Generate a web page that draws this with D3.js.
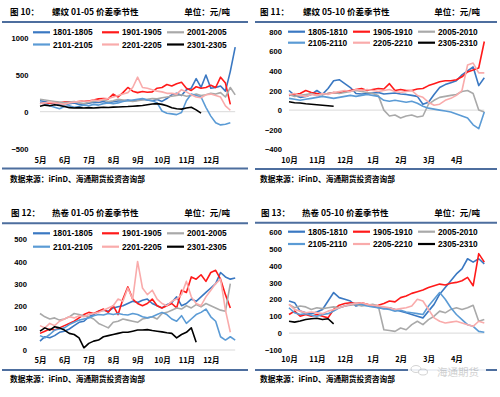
<!DOCTYPE html>
<html>
<head>
<meta charset="utf-8">
<script src="https://cdn.jsdelivr.net/npm/d3@7"></script>
<style>
  body { margin: 0; background: #fff; }
  svg { display: block; }
  .cjk { font-family: "Noto Sans CJK SC", sans-serif; font-weight: bold; fill: #000; }
  .num { font-family: "Liberation Sans", Arial, sans-serif; font-weight: bold; fill: #000; }
</style>
</head>
<body>
<div id="chart-area"></div>
<script>
// month labels on the x axis
var monthsA = ["5月", "6月", "7月", "8月", "9月", "10月", "11月", "12月"];
var monthsB = ["10月", "11月", "12月", "1月", "2月", "3月", "4月"];

// legend names
var names0105 = ["1801-1805", "1901-1905", "2001-2005", "2101-2105", "2201-2205", "2301-2305"];
var names0510 = ["1805-1810", "1905-1910", "2005-2010", "2105-2110", "2205-2210", "2305-2310"];

// one sample every 0.2 month (元/吨)
var STEP = 0.2;

// 螺纹 01-05
var rb0105_1801 = [150,140,120,110,100,95,110,120,100,105,115,130,125,140,120,135,145,150,160,145,155,170,160,150,165,140,180,230,250,220,300,320,450,330,500,320,330,350,280,550,880];
var rb0105_1901 = [120,110,115,125,120,130,135,130,140,150,145,160,175,180,175,240,200,260,330,280,260,275,265,270,320,330,370,350,380,400,320,290,340,320,330,360,330,470,390,100];
var rb0105_2001 = [170,160,150,140,130,120,130,140,120,110,130,140,150,160,140,150,170,160,150,140,150,160,170,180,175,190,200,210,220,230,210,220,240,220,230,250,240,260,200,330,230];
var rb0105_2101 = [120,110,80,60,40,70,80,60,70,90,80,100,90,110,120,110,120,140,150,160,170,180,160,150,120,10,-20,-30,-40,-10,150,240,220,200,60,-60,-150,-180,-170,-150];
var rb0105_2201 = [110,120,130,120,110,100,120,130,140,150,140,160,150,170,180,200,220,240,260,330,470,330,320,300,280,270,250,250,240,300,270,230,200,190,230,240,220,200,80,20];
var rb0105_2301 = [75,90,80,95,85,70,55,50,55,50,55,50,55,60,58,62,65,68,70,75,80,85,95,105,110,100,80,55,40,35,50,60,25,-20];

// 螺纹 05-10
var rb0510_1805 = [200,150,130,140,160,200,160,220,300,310,270,230,170,165,170,175,180,165,170,175,165,160,150,140,60,80,160,230,260,280,300,360,400,440,250,330];
var rb0510_1905 = [150,160,170,200,180,170,160,170,180,175,190,200,210,220,200,210,220,215,270,200,210,200,200,215,220,250,270,290,300,300,310,340,390,410,430,700];
var rb0510_2005 = [160,140,150,160,170,150,160,170,180,170,180,190,200,190,180,170,150,0,-60,-50,-80,-60,-50,-70,-60,60,100,130,140,150,160,190,200,170,0,-20];
var rb0510_2105 = [120,110,100,110,120,130,140,130,120,130,140,150,140,150,160,150,140,100,90,100,90,80,90,70,40,20,10,0,-10,-20,-40,-60,-80,-150,-190,-20];
var rb0510_2205 = [160,170,150,140,160,150,170,160,180,190,200,190,210,200,210,200,190,200,210,190,180,190,200,150,130,80,50,60,100,120,150,200,460,480,380,380];
var rb0510_2305 = [85,75,72,65,60,55,50,45,40];

// 热卷 01-05
var hc0105_1801 = [40,60,55,65,80,85,95,110,125,130,150,160,175,180,175,190,195,200,210,220,215,225,230,210,200,190,205,215,240,200,210,230,220,240,260,280,300,350,330,320,325];
var hc0105_1901 = [75,85,95,90,100,110,120,130,145,160,170,165,175,185,170,200,160,230,285,230,210,200,210,230,200,190,200,210,190,270,260,330,320,340,310,350,360,320,250,190];
var hc0105_2001 = [165,150,140,145,135,140,150,165,160,155,150,140,120,110,100,125,130,140,135,130,125,140,145,150,140,165,170,180,190,185,200,190,205,195,210,200,190,180,175,300];
var hc0105_2101 = [65,55,70,90,95,100,115,125,135,140,145,155,160,158,165,160,165,160,158,165,160,150,145,150,160,170,160,140,130,155,120,140,160,170,185,150,130,60,45,60,45];
var hc0105_2201 = [110,100,120,110,130,140,150,145,155,150,160,165,170,180,190,200,230,220,280,230,400,280,250,270,230,210,200,220,230,250,310,240,210,200,240,270,300,320,180,80];
var hc0105_2301 = [85,100,90,105,100,90,75,70,55,10,30,40,45,60,65,70,75,80,80,85,90,90,92,88,85,82,78,75,55,70,80,100,35];

// 热卷 05-10
var hc0510_1805 = [190,180,130,120,115,125,140,190,240,210,200,190,160,170,165,160,150,145,150,140,130,120,110,100,90,130,170,230,270,310,350,380,440,420,440,410];
var hc0510_1905 = [110,130,100,110,100,110,100,90,140,165,175,180,175,180,170,160,165,175,190,185,210,220,235,245,255,270,280,290,285,295,300,310,330,280,470,420];
var hc0510_2005 = [170,150,160,155,140,150,145,150,155,150,160,165,170,160,165,170,160,20,15,10,30,20,50,70,50,80,100,130,120,140,150,140,150,165,70,80];
var hc0510_2105 = [150,120,110,115,105,100,110,115,130,150,160,170,175,170,160,155,150,145,140,130,135,125,120,115,110,160,200,240,200,150,110,80,50,40,10,5];
var hc0510_2205 = [170,140,130,120,125,120,115,130,140,150,160,170,175,180,170,165,160,155,150,140,145,150,160,200,190,140,90,70,60,65,70,60,50,40,70,60];
var hc0510_2305 = [70,65,72,80,85,88,80,85,55];

var colors = ["#3a78c2", "#ff1a1a", "#a9a9a9", "#5b9bd5", "#f9abab", "#000000"];
var ruleColor = "#4d6e9e";

var panels = [
  {
    fig: "图 10：", title: "螺纹 01-05 价差季节性", figX: 10, titleX: 52, unitX: 230, titleY: 11,
    ruleY: 22, ruleX: [2, 248], legendY: [32.3, 44.5], legendX: [33, 102, 167],
    names: names0105, months: monthsA,
    series: [rb0105_1801, rb0105_1901, rb0105_2001, rb0105_2101, rb0105_2201, rb0105_2301],
    xRange: [40, 235.2], yDomain: [-500, 1000], yRange: [148.4, 38.3], yTicks: [-500, 0, 500, 1000],
    yLabelX: 28.5, xLabelY: 160, bottomY: 168.5, sourceX: 10, sourceY: 178
  },
  {
    fig: "图 11：", title: "螺纹 05-10 价差季节性", figX: 260, titleX: 303, unitX: 480, titleY: 11,
    ruleY: 22, ruleX: [255, 497], legendY: [31.7, 42.7], legendX: [288, 353, 418],
    names: names0510, months: monthsB,
    series: [rb0510_1805, rb0510_1905, rb0510_2005, rb0510_2105, rb0510_2205, rb0510_2305],
    xRange: [289, 484.3], yDomain: [-400, 800], yRange: [149.3, 31.7], yTicks: [-400, -200, 0, 200, 400, 600, 800],
    yLabelX: 282, xLabelY: 160, bottomY: 169, sourceX: 260, sourceY: 178
  },
  {
    fig: "图 12：", title: "热卷 01-05 价差季节性", figX: 11, titleX: 52, unitX: 230, titleY: 211.7,
    ruleY: 223.3, ruleX: [2, 248], legendY: [233.3, 246.7], legendX: [33, 102, 167],
    names: names0105, months: monthsA,
    series: [hc0105_1801, hc0105_1901, hc0105_2001, hc0105_2101, hc0105_2201, hc0105_2301],
    xRange: [40, 235.2], yDomain: [0, 500], yRange: [350, 239.3], yTicks: [0, 100, 200, 300, 400, 500],
    yLabelX: 27, xLabelY: 360, bottomY: 370, sourceX: 10, sourceY: 378.3
  },
  {
    fig: "图 13：", title: "热卷 05-10 价差季节性", figX: 261, titleX: 302, unitX: 480, titleY: 211.7,
    ruleY: 222.7, ruleX: [255, 497], legendY: [231.7, 244], legendX: [288, 353, 418],
    names: names0510, months: monthsB,
    series: [hc0510_1805, hc0510_1905, hc0510_2005, hc0510_2105, hc0510_2205, hc0510_2305],
    xRange: [289, 484.3], yDomain: [-100, 600], yRange: [350, 231.7], yTicks: [-100, 0, 100, 200, 300, 400, 500, 600],
    yLabelX: 282, xLabelY: 359, bottomY: 370, sourceX: 260, sourceY: 378
  }
];

var svg = d3
  .select("#chart-area")
  .append("svg")
  .attr("xmlns", "http://www.w3.org/2000/svg")
  .attr("width", 500)
  .attr("height", 397);

svg.append("rect").attr("width", 500).attr("height", 397).attr("fill", "#fff");

function drawPanel(p) {
  var g = svg.append("g");
  var x = d3.scaleLinear().domain([0, p.months.length]).range(p.xRange);
  var y = d3.scaleLinear().domain(p.yDomain).range(p.yRange);

  // header
  g.append("text").attr("class", "cjk").attr("x", p.figX).attr("y", p.titleY)
    .attr("dominant-baseline", "central").attr("font-size", "8.5px").text(p.fig);
  g.append("text").attr("class", "cjk").attr("x", p.titleX).attr("y", p.titleY)
    .attr("dominant-baseline", "central").attr("font-size", "8.5px").text(p.title);
  g.append("text").attr("class", "cjk").attr("x", p.unitX).attr("y", p.titleY)
    .attr("dominant-baseline", "central").attr("text-anchor", "end").attr("font-size", "8.5px").text("单位：元/吨");
  g.append("line").attr("x1", p.ruleX[0]).attr("x2", p.ruleX[1]).attr("y1", p.ruleY).attr("y2", p.ruleY)
    .attr("stroke", ruleColor).attr("stroke-width", 2);

  // zero line
  g.append("line").attr("x1", x(0)).attr("x2", x(p.months.length)).attr("y1", y(0)).attr("y2", y(0))
    .attr("stroke", "#d9d9d9").attr("stroke-width", 1);

  // y axis labels only
  var yAxis = d3.axisLeft(y).tickValues(p.yTicks).tickSize(0).tickPadding(0);
  var ya = g.append("g").attr("transform", "translate(" + p.yLabelX + ",0)").call(yAxis);
  ya.select(".domain").remove();
  ya.selectAll("text").attr("class", "num").attr("font-size", "7.6px").attr("dy", "0.35em")
    .text(function (d) { return d < 0 ? "\u2212" + Math.abs(d) : d; });

  // x axis labels only
  var xAxis = d3.axisBottom(x).tickValues(d3.range(p.months.length)).tickSize(0).tickPadding(0)
    .tickFormat(function (i) { return p.months[i]; });
  var xa = g.append("g").attr("transform", "translate(0," + p.xLabelY + ")").call(xAxis);
  xa.select(".domain").remove();
  xa.selectAll("text").attr("class", "cjk").attr("font-size", "7.5px").attr("y", 0).attr("dy", "0.35em");

  // lines
  var line = d3.line()
    .defined(function (d) { return d != null; })
    .x(function (d, i) { return x(i * STEP); })
    .y(function (d) { return y(d); });

  p.series.forEach(function (s, k) {
    g.append("path")
      .datum(s)
      .attr("fill", "none")
      .attr("stroke", colors[k])
      .attr("stroke-width", 1.6)
      .attr("stroke-linejoin", "round")
      .attr("d", line);
  });

  // legend
  p.names.forEach(function (name, k) {
    var lx = p.legendX[k % 3];
    var ly = p.legendY[Math.floor(k / 3)];
    g.append("line").attr("x1", lx).attr("x2", lx + 17).attr("y1", ly).attr("y2", ly)
      .attr("stroke", colors[k]).attr("stroke-width", 2.2);
    g.append("text").attr("class", "num").attr("x", lx + 20).attr("y", ly)
      .attr("dominant-baseline", "central").attr("font-size", "8.3px").text(name);
  });

  // footer
  g.append("line").attr("x1", p.ruleX[0]).attr("x2", p.ruleX[1]).attr("y1", p.bottomY).attr("y2", p.bottomY)
    .attr("stroke", ruleColor).attr("stroke-width", 2);
  g.append("text").attr("class", "cjk").attr("x", p.sourceX).attr("y", p.sourceY)
    .attr("dominant-baseline", "central").attr("font-size", "7.7px").text("数据来源：iFinD、海通期货投资咨询部");
}

panels.forEach(drawPanel);

// watermark
var wm = svg.append("g").attr("opacity", 0.9);
wm.append("rect").attr("x", 408).attr("y", 365).attr("width", 78).attr("height", 11).attr("fill", "#fff");
wm.append("ellipse").attr("cx", 416).attr("cy", 369).attr("rx", 5).attr("ry", 3.5)
  .attr("fill", "none").attr("stroke", "#cfcfcf").attr("stroke-width", 1);
wm.append("ellipse").attr("cx", 423).attr("cy", 372).attr("rx", 4.5).attr("ry", 3)
  .attr("fill", "#fff").attr("stroke", "#cfcfcf").attr("stroke-width", 1);
wm.append("text").attr("x", 437).attr("y", 371).attr("dominant-baseline", "central")
  .attr("font-family", "Noto Sans CJK SC, sans-serif").attr("font-size", "10.5px")
  .attr("fill", "#cdcdcd").text("海通期货");
</script>
</body>
</html>
